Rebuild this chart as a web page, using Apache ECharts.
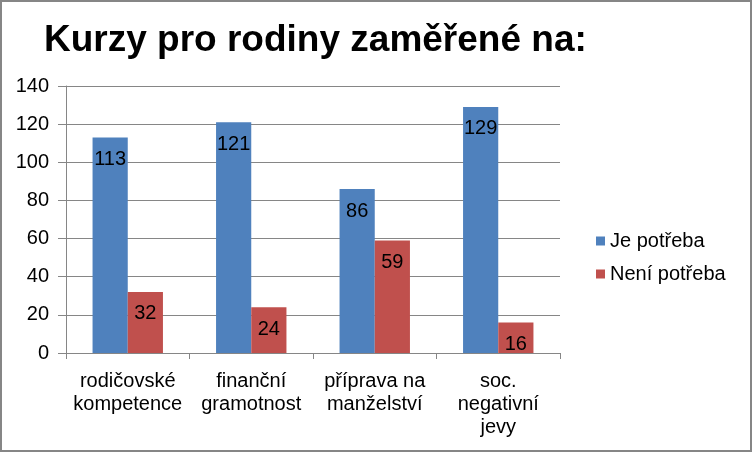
<!DOCTYPE html>
<html>
<head>
<meta charset="utf-8">
<script src="https://cdn.jsdelivr.net/npm/echarts@6/dist/echarts.min.js"></script>
<style>
html,body{margin:0;padding:0;background:#fff;}
#chart{width:752px;height:452px;}
</style>
</head>
<body>
<div id="chart"></div>
<script>
const titleText = 'Kurzy pro rodiny zaměřené na:';
const categories = ['rodičovské\nkompetence', 'finanční\ngramotnost', 'příprava na\nmanželství', 'soc.\nnegativní\njevy'];
const seriesNames = ['Je potřeba', 'Není potřeba'];
const jePotreba = [113, 121, 86, 129];
const neniPotreba = [32, 24, 59, 16];
const yMin = 0, yMax = 140, yStep = 20;

const chart = echarts.init(document.getElementById('chart'), null, {renderer: 'canvas'});
const font = 'Liberation Sans, Arial, sans-serif';
const gray = '#868686';
const labelCfg = {
  show: true, position: 'insideTop', distance: 12,
  color: '#000', fontFamily: font, fontSize: 20
};
chart.setOption({
  animation: false,
  backgroundColor: '#fff',
  textStyle: {fontFamily: font},
  title: {
    text: titleText, left: 39, top: 17,
    textStyle: {fontFamily: font, fontSize: 37, fontWeight: 'bold', color: '#000'}
  },
  graphic: [{
    type: 'rect', shape: {x: 1, y: 1, width: 750, height: 450},
    style: {fill: 'none', stroke: gray, lineWidth: 2}, silent: true, z: 100
  }],
  grid: {left: 66, right: 192, top: 86, bottom: 99, containLabel: false},
  legend: {
    orient: 'vertical', left: 591, top: 226,
    itemWidth: 9, itemHeight: 9, itemGap: 13,
    icon: 'rect',
    textStyle: {fontFamily: font, fontSize: 20, color: '#000'},
    data: seriesNames
  },
  xAxis: {
    type: 'category', data: categories,
    axisLine: {lineStyle: {color: gray, width: 1}},
    axisTick: {show: true, length: 6, lineStyle: {color: gray}},
    axisLabel: {color: '#000', fontFamily: font, fontSize: 20, lineHeight: 23, margin: 17, interval: 0}
  },
  yAxis: {
    type: 'value', min: yMin, max: yMax, interval: yStep,
    axisLine: {show: true, lineStyle: {color: gray, width: 1}},
    axisTick: {show: true, length: 8, lineStyle: {color: gray}},
    splitLine: {show: true, lineStyle: {color: gray, width: 1}},
    axisLabel: {color: '#000', fontFamily: font, fontSize: 20, margin: 17}
  },
  series: [
    {name: seriesNames[0], type: 'bar', data: jePotreba, barGap: '0%', barCategoryGap: '43%',
     itemStyle: {color: '#4F81BD'}, label: labelCfg},
    {name: seriesNames[1], type: 'bar', data: neniPotreba, barGap: '0%', barCategoryGap: '43%',
     itemStyle: {color: '#C0504D'}, label: labelCfg}
  ]
});
</script>
</body>
</html>
